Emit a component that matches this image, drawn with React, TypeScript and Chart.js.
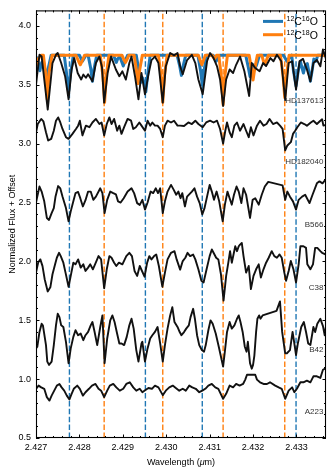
import React, { useEffect, useRef } from "react";
import { Chart, registerables } from "chart.js";

Chart.register(...registerables);

type Pt = [number, number];

const X_MIN = 2.427;
const X_MAX = 2.43368;
const Y_MIN = 0.5;
const Y_MAX = 4.132;

const xTickValues = [2.427, 2.428, 2.429, 2.43, 2.431, 2.432, 2.433];
const yTickValues = [0.5, 1.0, 1.5, 2.0, 2.5, 3.0, 3.5, 4.0];

const blueLines = [2.42777, 2.42952, 2.43083, 2.43299];
const orangeLines = [2.42857, 2.42992, 2.43131, 2.43273];

const starNames = ["HD137613", "HD182040", "B566", "C38", "B42", "A223"];
const starLabelY = [3.366, 2.845, 2.308, 1.779, 1.25, 0.721];
const starLabelX = 2.43362;

const legendIsotopes = ["16", "18"];
const BLUE = "#1f77b4";
const ORANGE = "#ff7f0e";

const model12C16O: Pt[] = [
  [2.427, 3.74], [2.42705, 3.69], [2.42709, 3.62], [2.42713, 3.69], [2.42717, 3.7],
  [2.42721, 3.62], [2.42724, 3.55], [2.42727, 3.62], [2.42735, 3.752], [2.42765, 3.752],
  [2.42771, 3.58], [2.42775, 3.44], [2.42779, 3.58], [2.42786, 3.752], [2.428, 3.752],
  [2.42804, 3.72], [2.42807, 3.7], [2.4281, 3.72], [2.42815, 3.752], [2.4282, 3.752],
  [2.42826, 3.64], [2.4283, 3.53], [2.42834, 3.64], [2.4284, 3.752], [2.42878, 3.752],
  [2.42882, 3.72], [2.42885, 3.69], [2.42888, 3.72], [2.42893, 3.74], [2.42897, 3.7],
  [2.42901, 3.66], [2.42905, 3.7], [2.42911, 3.752], [2.42931, 3.752], [2.42937, 3.62],
  [2.42941, 3.52], [2.42945, 3.56], [2.42949, 3.52], [2.42953, 3.44], [2.42957, 3.58],
  [2.42963, 3.752], [2.43025, 3.752], [2.43031, 3.66], [2.43035, 3.58], [2.43039, 3.66],
  [2.43045, 3.752], [2.43073, 3.752], [2.43079, 3.62], [2.43083, 3.5], [2.43087, 3.62],
  [2.43093, 3.752], [2.43108, 3.752], [2.43112, 3.72], [2.43115, 3.7], [2.43118, 3.72],
  [2.43123, 3.752], [2.43183, 3.752], [2.43189, 3.65], [2.43193, 3.57], [2.43197, 3.66],
  [2.43201, 3.67], [2.43205, 3.64], [2.43209, 3.68], [2.43215, 3.752], [2.4327, 3.752],
  [2.43275, 3.72], [2.43278, 3.7], [2.43282, 3.72], [2.43289, 3.752], [2.43293, 3.62],
  [2.43299, 3.49], [2.43304, 3.62], [2.43309, 3.7], [2.43313, 3.64], [2.43316, 3.6],
  [2.4332, 3.66], [2.43325, 3.68], [2.43329, 3.6], [2.43332, 3.53], [2.43336, 3.62],
  [2.4334, 3.72], [2.43345, 3.7], [2.43349, 3.752], [2.43368, 3.752],
];

const model12C18O: Pt[] = [
  [2.427, 3.66], [2.42705, 3.72], [2.42712, 3.752], [2.42717, 3.752], [2.42722, 3.6],
  [2.42726, 3.375], [2.4273, 3.6], [2.42737, 3.752], [2.42792, 3.752], [2.42798, 3.7],
  [2.42802, 3.67], [2.42806, 3.7], [2.42812, 3.752], [2.42848, 3.752], [2.42854, 3.58],
  [2.42858, 3.35], [2.42862, 3.58], [2.42868, 3.752], [2.42898, 3.752], [2.42903, 3.71],
  [2.42906, 3.69], [2.42909, 3.71], [2.42914, 3.752], [2.42926, 3.752], [2.42931, 3.63],
  [2.42935, 3.51], [2.42939, 3.63], [2.42945, 3.752], [2.42982, 3.752], [2.42988, 3.58],
  [2.42992, 3.35], [2.42996, 3.58], [2.43002, 3.752], [2.43074, 3.752], [2.43079, 3.7],
  [2.43082, 3.67], [2.43085, 3.7], [2.4309, 3.752], [2.43106, 3.752], [2.43109, 3.73],
  [2.43111, 3.72], [2.43113, 3.73], [2.43116, 3.752], [2.43121, 3.752], [2.43127, 3.57],
  [2.43131, 3.33], [2.43135, 3.57], [2.43141, 3.752], [2.43191, 3.752], [2.43196, 3.64],
  [2.432, 3.54], [2.43204, 3.64], [2.4321, 3.752], [2.4322, 3.752], [2.43224, 3.7],
  [2.43227, 3.68], [2.4323, 3.7], [2.43235, 3.752], [2.43263, 3.752], [2.43269, 3.58],
  [2.43273, 3.39], [2.43277, 3.58], [2.43283, 3.752], [2.43368, 3.752],
];

const hd137613: Pt[] = [
  [2.427, 3.5], [2.42708, 3.755], [2.42713, 3.74], [2.42727, 3.29], [2.42738, 3.685],
  [2.42746, 3.755], [2.4275, 3.77], [2.42758, 3.685], [2.42767, 3.573], [2.42775, 3.377],
  [2.42782, 3.63], [2.42788, 3.727], [2.42796, 3.6], [2.42804, 3.545], [2.42809, 3.587],
  [2.42815, 3.56], [2.4282, 3.59], [2.4283, 3.53], [2.42838, 3.685], [2.42846, 3.74],
  [2.42852, 3.65], [2.42857, 3.349], [2.42865, 3.6], [2.42873, 3.74], [2.42884, 3.63],
  [2.42892, 3.573], [2.42899, 3.615], [2.42907, 3.545], [2.42915, 3.685], [2.4292, 3.74],
  [2.42928, 3.573], [2.42936, 3.377], [2.42943, 3.6], [2.42951, 3.42], [2.42959, 3.587],
  [2.42966, 3.71], [2.42974, 3.74], [2.42982, 3.685], [2.42992, 3.349], [2.42999, 3.657],
  [2.43009, 3.77], [2.43018, 3.75], [2.43026, 3.77], [2.43032, 3.657], [2.43038, 3.59],
  [2.43048, 3.71], [2.43059, 3.755], [2.43067, 3.685], [2.43074, 3.545], [2.43084, 3.42],
  [2.43094, 3.7], [2.43101, 3.77], [2.43109, 3.727], [2.43117, 3.657], [2.43124, 3.545],
  [2.43131, 3.32], [2.43138, 3.545], [2.43146, 3.63], [2.43154, 3.6], [2.43161, 3.67],
  [2.4317, 3.74], [2.4318, 3.615], [2.43191, 3.405], [2.43197, 3.685], [2.43205, 3.643],
  [2.43215, 3.615], [2.43223, 3.685], [2.4323, 3.66], [2.4324, 3.727], [2.43247, 3.7],
  [2.43255, 3.755], [2.43265, 3.7], [2.43274, 3.37], [2.43282, 3.685], [2.4329, 3.7],
  [2.43299, 3.46], [2.43307, 3.7], [2.43315, 3.72], [2.43324, 3.63], [2.43332, 3.53],
  [2.43339, 3.685], [2.43347, 3.71], [2.43355, 3.657], [2.43361, 3.8], [2.43368, 3.72],
];

const hd182040: Pt[] = [
  [2.427, 3.095], [2.42704, 3.167], [2.42712, 3.21], [2.42717, 3.19], [2.42723, 3.097],
  [2.42728, 3.027], [2.42735, 3.041], [2.42741, 3.11], [2.42746, 3.195], [2.42751, 3.223],
  [2.42756, 3.18], [2.42761, 3.125], [2.42769, 3.055], [2.42775, 3.041], [2.42784, 3.083],
  [2.42792, 3.125], [2.42797, 3.153], [2.42801, 3.195], [2.42807, 3.07], [2.42815, 3.153],
  [2.42823, 3.14], [2.4283, 3.18], [2.42838, 3.21], [2.42846, 3.167], [2.42851, 3.18],
  [2.42857, 3.07], [2.42863, 3.167], [2.42869, 3.223], [2.42874, 3.167], [2.4288, 3.21],
  [2.42887, 3.11], [2.42892, 3.153], [2.42897, 3.083], [2.42903, 3.14], [2.42911, 3.21],
  [2.42919, 3.195], [2.42924, 3.125], [2.4293, 3.14], [2.42938, 3.18], [2.42943, 3.153],
  [2.42951, 3.11], [2.42957, 3.195], [2.42963, 3.153], [2.42968, 3.18], [2.42974, 3.153],
  [2.4298, 3.153], [2.42986, 3.125], [2.42992, 3.055], [2.42997, 3.153], [2.43003, 3.195],
  [2.43011, 3.18], [2.43018, 3.195], [2.43026, 3.153], [2.43032, 3.153], [2.43041, 3.15],
  [2.43051, 3.18], [2.43059, 3.167], [2.43067, 3.195], [2.43074, 3.167], [2.43084, 3.14],
  [2.43092, 3.18], [2.43101, 3.195], [2.43109, 3.18], [2.43117, 3.195], [2.43124, 3.125],
  [2.43131, 3.0], [2.43136, 3.11], [2.4314, 3.18], [2.43146, 3.097], [2.43151, 3.055],
  [2.43157, 3.153], [2.43163, 3.18], [2.4317, 3.11], [2.43178, 3.167], [2.43184, 3.11],
  [2.4319, 3.055], [2.43195, 3.14], [2.43201, 3.07], [2.43209, 3.153], [2.43216, 3.195],
  [2.43224, 3.153], [2.43231, 3.167], [2.43238, 3.21], [2.43246, 3.167], [2.43255, 3.18],
  [2.43262, 3.153], [2.43268, 3.125], [2.43274, 2.943], [2.43279, 2.985], [2.43287, 3.013],
  [2.43292, 3.083], [2.43297, 3.11], [2.43302, 3.14], [2.4331, 3.18], [2.43318, 3.167],
  [2.43324, 3.153], [2.43333, 3.18], [2.43339, 3.195], [2.43347, 3.167], [2.43355, 3.195],
  [2.43359, 3.207], [2.43362, 3.153], [2.43368, 3.16],
];

const b566: Pt[] = [
  [2.427, 2.5], [2.42708, 2.636], [2.42713, 2.593], [2.42719, 2.51], [2.42725, 2.369],
  [2.4273, 2.352], [2.42736, 2.41], [2.42741, 2.453], [2.42745, 2.552], [2.42751, 2.64],
  [2.42756, 2.62], [2.42761, 2.552], [2.42769, 2.453], [2.42775, 2.34], [2.4278, 2.425],
  [2.42786, 2.51], [2.42791, 2.58], [2.42797, 2.59], [2.42802, 2.537], [2.42808, 2.467],
  [2.42814, 2.52], [2.4282, 2.593], [2.42826, 2.593], [2.42832, 2.523], [2.42838, 2.55],
  [2.42848, 2.621], [2.42853, 2.58], [2.42858, 2.41], [2.42864, 2.523], [2.42871, 2.593],
  [2.42878, 2.58], [2.42884, 2.57], [2.42889, 2.51], [2.42895, 2.5], [2.42902, 2.537],
  [2.42911, 2.593], [2.4292, 2.621], [2.42926, 2.58], [2.42933, 2.495], [2.42939, 2.48],
  [2.42945, 2.523], [2.42951, 2.44], [2.42957, 2.5], [2.42964, 2.593], [2.4297, 2.58],
  [2.42976, 2.621], [2.42981, 2.58], [2.42986, 2.621], [2.42992, 2.41], [2.42997, 2.51],
  [2.43003, 2.593], [2.43011, 2.65], [2.43017, 2.61], [2.43023, 2.566], [2.43028, 2.593],
  [2.43033, 2.537], [2.43037, 2.58], [2.43043, 2.467], [2.43048, 2.55], [2.43059, 2.593],
  [2.43065, 2.621], [2.43071, 2.55], [2.43077, 2.495], [2.43083, 2.4], [2.43088, 2.45],
  [2.43094, 2.55], [2.431, 2.65], [2.43105, 2.593], [2.4311, 2.523], [2.43116, 2.593],
  [2.43122, 2.51], [2.4313, 2.34], [2.43135, 2.48], [2.43141, 2.593], [2.43146, 2.537],
  [2.43151, 2.482], [2.43156, 2.566], [2.43162, 2.636], [2.43167, 2.593], [2.43173, 2.495],
  [2.43178, 2.621], [2.43184, 2.566], [2.43193, 2.369], [2.43199, 2.523], [2.43205, 2.537],
  [2.43213, 2.482], [2.4322, 2.566], [2.43227, 2.636], [2.43235, 2.675], [2.43268, 2.646],
  [2.43274, 2.523], [2.43279, 2.593], [2.43285, 2.55], [2.43292, 2.51], [2.43299, 2.44],
  [2.43305, 2.523], [2.43313, 2.55], [2.4332, 2.566], [2.4333, 2.495], [2.43337, 2.566],
  [2.43347, 2.663], [2.43353, 2.68], [2.4336, 2.663], [2.43368, 2.7],
];

const c38: Pt[] = [
  [2.427, 1.905], [2.42705, 1.99], [2.4271, 2.017], [2.42715, 1.96], [2.4272, 1.849],
  [2.42727, 1.745], [2.42733, 1.78], [2.42738, 1.891], [2.42744, 1.975], [2.42748, 2.031],
  [2.42753, 2.073], [2.42757, 2.045], [2.42763, 1.989], [2.42768, 1.905], [2.42775, 1.785],
  [2.4278, 1.877], [2.42786, 1.989], [2.42791, 1.975], [2.42797, 2.017], [2.42803, 1.947],
  [2.42809, 1.975], [2.42814, 1.919], [2.4282, 1.947], [2.42825, 1.975], [2.42831, 1.933],
  [2.42836, 1.975], [2.42844, 2.045], [2.4285, 2.017], [2.42857, 1.772], [2.42863, 1.933],
  [2.42869, 2.045], [2.42874, 2.031], [2.4288, 1.989], [2.42885, 1.961], [2.42891, 1.989],
  [2.42899, 1.975], [2.42908, 2.045], [2.42915, 2.073], [2.42921, 2.045], [2.42927, 1.919],
  [2.42933, 1.877], [2.42939, 1.961], [2.4295, 1.87], [2.42956, 1.989], [2.42961, 2.045],
  [2.42966, 2.017], [2.42972, 2.045], [2.42977, 2.059], [2.42983, 1.961], [2.42991, 1.785],
  [2.42997, 1.905], [2.43003, 2.017], [2.43011, 2.073], [2.43019, 2.087], [2.43024, 2.017],
  [2.43032, 1.93], [2.43038, 2.003], [2.43044, 2.031], [2.43049, 2.073], [2.43055, 2.045],
  [2.43062, 2.058], [2.43067, 2.017], [2.43074, 1.933], [2.43081, 1.835], [2.43086, 1.821],
  [2.43092, 1.919], [2.431, 2.045], [2.43105, 2.101], [2.43109, 2.073], [2.43115, 2.031],
  [2.4312, 2.017], [2.43126, 1.891], [2.43132, 1.667], [2.43138, 1.877], [2.43143, 1.989],
  [2.43147, 2.087], [2.43151, 1.989], [2.43155, 2.059], [2.43159, 2.129], [2.43163, 2.087],
  [2.43167, 2.129], [2.4317, 2.143], [2.43174, 2.157], [2.43178, 2.045], [2.43184, 1.905],
  [2.4319, 1.961], [2.43195, 1.765], [2.43201, 1.877], [2.43207, 1.933], [2.43213, 1.975],
  [2.43218, 1.863], [2.43224, 1.933], [2.4323, 1.989], [2.43236, 2.031], [2.43243, 2.087],
  [2.43249, 2.045], [2.43255, 2.031], [2.43261, 2.059], [2.43266, 2.031], [2.43272, 1.905],
  [2.43276, 1.835], [2.43282, 1.919], [2.43287, 2.003], [2.43293, 1.933], [2.43299, 1.821],
  [2.43305, 1.975], [2.43309, 2.129], [2.43316, 2.129], [2.43322, 2.115], [2.43325, 1.975],
  [2.43332, 1.933], [2.43338, 1.975], [2.43343, 2.115], [2.43348, 2.115], [2.43355, 2.087],
  [2.43359, 2.073], [2.43368, 2.058],
];

const b42: Pt[] = [
  [2.427, 1.26], [2.42703, 1.275], [2.42708, 1.401], [2.42713, 1.471], [2.42716, 1.455],
  [2.42723, 1.289], [2.42726, 1.149], [2.4273, 1.121], [2.42736, 1.149], [2.42741, 1.289],
  [2.42746, 1.457], [2.4275, 1.555], [2.42754, 1.527], [2.42758, 1.457], [2.42763, 1.443],
  [2.42769, 1.317], [2.42775, 1.135], [2.4278, 1.261], [2.42786, 1.359], [2.42791, 1.415],
  [2.42797, 1.373], [2.42803, 1.387], [2.42809, 1.331], [2.42814, 1.373], [2.4282, 1.401],
  [2.42826, 1.457], [2.4283, 1.485], [2.42835, 1.401], [2.42841, 1.289], [2.42848, 1.443],
  [2.42853, 1.541], [2.42858, 1.135], [2.42864, 1.345], [2.42871, 1.499], [2.42876, 1.541],
  [2.42881, 1.485], [2.42886, 1.401], [2.42892, 1.303], [2.42897, 1.303], [2.42903, 1.289],
  [2.42909, 1.359], [2.42915, 1.457], [2.4292, 1.513], [2.42925, 1.429], [2.42931, 1.247],
  [2.42936, 1.149], [2.42943, 1.303], [2.42945, 1.317], [2.42951, 1.149], [2.42957, 1.261],
  [2.42963, 1.345], [2.42968, 1.373], [2.42974, 1.401], [2.4298, 1.443], [2.42986, 1.303],
  [2.42992, 1.149], [2.42997, 1.289], [2.43003, 1.429], [2.43009, 1.541], [2.43014, 1.611],
  [2.43019, 1.485], [2.43026, 1.443], [2.43031, 1.4], [2.43035, 1.373], [2.43041, 1.4],
  [2.43046, 1.429], [2.43052, 1.457], [2.43056, 1.527], [2.43062, 1.597], [2.43066, 1.513],
  [2.43071, 1.373], [2.43076, 1.289], [2.43082, 1.247], [2.43087, 1.233], [2.43091, 1.289],
  [2.43097, 1.415], [2.43102, 1.499], [2.43107, 1.471], [2.43114, 1.387], [2.43121, 1.275],
  [2.43131, 1.107], [2.43135, 1.233], [2.4314, 1.401], [2.43146, 1.485], [2.43151, 1.429],
  [2.43157, 1.457], [2.43163, 1.513], [2.43167, 1.541], [2.43171, 1.485], [2.43176, 1.401],
  [2.43181, 1.275], [2.43185, 1.233], [2.43188, 1.317], [2.43193, 1.135], [2.43197, 1.089],
  [2.432, 1.121], [2.43203, 1.2], [2.43207, 1.401], [2.4321, 1.513], [2.43214, 1.541],
  [2.43217, 1.513], [2.43222, 1.541], [2.43254, 1.58], [2.43262, 1.66], [2.43267, 1.401],
  [2.43274, 1.219], [2.43278, 1.22], [2.43285, 1.247], [2.43291, 1.401], [2.43294, 1.33],
  [2.43299, 1.205], [2.43303, 1.3], [2.43311, 1.443], [2.43317, 1.485], [2.43322, 1.4],
  [2.43327, 1.303], [2.43332, 1.29], [2.43339, 1.443], [2.43343, 1.4], [2.43348, 1.471],
  [2.43355, 1.513], [2.43361, 1.45], [2.43365, 1.373], [2.43368, 1.45],
];

const a223: Pt[] = [
  [2.427, 0.918], [2.42706, 0.945], [2.42712, 0.93], [2.42719, 0.918], [2.42725, 0.847],
  [2.42731, 0.818], [2.42736, 0.86], [2.42742, 0.902], [2.42748, 0.945], [2.42754, 0.959],
  [2.42759, 0.93], [2.42765, 0.902], [2.42771, 0.86], [2.42777, 0.827], [2.42782, 0.875],
  [2.42787, 0.918], [2.42795, 0.945], [2.42801, 0.918], [2.42808, 0.86], [2.42814, 0.889],
  [2.42822, 0.918], [2.42829, 0.945], [2.42837, 0.959], [2.42844, 0.918], [2.4285, 0.902],
  [2.42857, 0.847], [2.42864, 0.902], [2.4287, 0.945], [2.42878, 0.959], [2.42885, 0.93],
  [2.42893, 0.902], [2.42901, 0.918], [2.42908, 0.959], [2.42916, 0.973], [2.42924, 0.93],
  [2.42931, 0.902], [2.42939, 0.918], [2.42945, 0.889], [2.42953, 0.91], [2.42959, 0.925],
  [2.42967, 0.918], [2.42974, 0.945], [2.42982, 0.93], [2.42992, 0.864], [2.42999, 0.902],
  [2.43007, 0.93], [2.43015, 0.945], [2.43022, 0.925], [2.4303, 0.902], [2.43038, 0.918],
  [2.43045, 0.902], [2.43053, 0.945], [2.4306, 0.93], [2.43068, 0.918], [2.43076, 0.889],
  [2.43083, 0.902], [2.4309, 0.918], [2.43097, 0.945], [2.43105, 0.959], [2.43113, 0.93],
  [2.4312, 0.918], [2.43131, 0.833], [2.43138, 0.875], [2.43146, 0.945], [2.43154, 0.93],
  [2.43161, 0.959], [2.43169, 0.945], [2.43177, 0.959], [2.43182, 0.996], [2.43186, 1.037],
  [2.43205, 1.037], [2.43209, 0.996], [2.43216, 0.973], [2.43224, 0.959], [2.43232, 0.959],
  [2.43239, 0.973], [2.43251, 0.945], [2.43259, 0.93], [2.43266, 0.918], [2.43274, 0.833],
  [2.43282, 0.902], [2.4329, 0.93], [2.43295, 0.889], [2.43301, 0.918], [2.43309, 0.973],
  [2.43316, 0.973], [2.43324, 0.987], [2.43332, 0.973], [2.43339, 1.024], [2.43347, 1.024],
  [2.43355, 1.01], [2.43361, 1.08], [2.43368, 1.094],
];

const spectra: Pt[][] = [hd137613, hd182040, b566, c38, b42, a223];

const FONT = "'Liberation Sans', Arial, Helvetica, sans-serif";

const toXY = (pts: Pt[]) => pts.map(([x, y]) => ({ x, y }));

const decorPlugin = {
  id: "decor",
  afterDraw(chart: any) {
    const { ctx, chartArea: a, scales } = chart;
    const xs = scales.x;
    const ys = scales.y;
    ctx.save();
    ctx.strokeStyle = "#000";
    ctx.lineWidth = 1;
    const seg = (x1: number, y1: number, x2: number, y2: number) => {
      ctx.beginPath();
      ctx.moveTo(x1, y1);
      ctx.lineTo(x2, y2);
      ctx.stroke();
    };
    // inward ticks, x
    const xMinorStep = (xTickValues[1] - xTickValues[0]) / 5;
    for (let k = 0; ; k++) {
      const v = xTickValues[0] + k * xMinorStep;
      if (v > X_MAX + 1e-9) break;
      const p = Math.round(xs.getPixelForValue(v)) + 0.5;
      const len = k % 5 === 0 ? 3.5 : 2;
      seg(p, a.bottom, p, a.bottom - len);
      seg(p, a.top, p, a.top + len);
    }
    // inward ticks, y
    const yMinorStep = (yTickValues[1] - yTickValues[0]) / 5;
    for (let k = 0; ; k++) {
      const v = yTickValues[0] + k * yMinorStep;
      if (v > Y_MAX + 1e-9) break;
      const p = Math.round(ys.getPixelForValue(v)) + 0.5;
      const len = k % 5 === 0 ? 3.5 : 2;
      seg(a.left, p, a.left + len, p);
      seg(a.right, p, a.right - len, p);
    }
    // frame
    ctx.lineWidth = 1.1;
    ctx.strokeRect(a.left + 0.5, a.top + 0.5, a.right - a.left - 1, a.bottom - a.top - 1);

    // star labels
    ctx.fillStyle = "#333";
    ctx.font = `8px ${FONT}`;
    ctx.textAlign = "right";
    ctx.textBaseline = "middle";
    starNames.forEach((name, i) => {
      ctx.fillText(name, xs.getPixelForValue(starLabelX), ys.getPixelForValue(starLabelY[i]));
    });

    // legend
    const legendColors = [BLUE, ORANGE];
    legendIsotopes.forEach((iso, i) => {
      const ly = a.top + 11 + i * 13.3;
      ctx.strokeStyle = legendColors[i];
      ctx.lineWidth = 3;
      seg(a.right - 63, ly, a.right - 43, ly);
      ctx.fillStyle = "#000";
      ctx.textAlign = "left";
      ctx.textBaseline = "alphabetic";
      let tx = a.right - 39.5;
      const base = ly + 3.8;
      const parts: [string, boolean][] = [["12", true], ["C", false], [iso, true], ["O", false]];
      parts.forEach(([t, sup]) => {
        ctx.font = sup ? `7px ${FONT}` : `10.5px ${FONT}`;
        ctx.fillText(t, tx, sup ? base - 4 : base);
        tx += ctx.measureText(t).width;
      });
    });

    // axis titles
    ctx.fillStyle = "#000";
    ctx.font = `9px ${FONT}`;
    ctx.textBaseline = "alphabetic";
    ctx.save();
    ctx.translate(14.5, (a.top + a.bottom) / 2);
    ctx.rotate(-Math.PI / 2);
    ctx.textAlign = "center";
    ctx.fillText("Normalized Flux + Offset", 0, 0);
    ctx.restore();

    const t1 = "Wavelength (";
    const t2 = "μ";
    const t3 = "m)";
    ctx.font = `9px ${FONT}`;
    const w1 = ctx.measureText(t1).width;
    const w3 = ctx.measureText(t3).width;
    ctx.font = `italic 9px ${FONT}`;
    const w2 = ctx.measureText(t2).width;
    const total = w1 + w2 + w3;
    let sx = (a.left + a.right) / 2 - total / 2;
    const by = 465;
    ctx.textAlign = "left";
    ctx.font = `9px ${FONT}`;
    ctx.fillText(t1, sx, by);
    sx += w1;
    ctx.font = `italic 9px ${FONT}`;
    ctx.fillText(t2, sx, by);
    sx += w2;
    ctx.font = `9px ${FONT}`;
    ctx.fillText(t3, sx, by);
    ctx.restore();
  },
};

export default function App() {
  const canvasRef = useRef<HTMLCanvasElement | null>(null);

  useEffect(() => {
    document.body.style.margin = "0";
    const canvas = canvasRef.current;
    if (!canvas) return;

    const vlineSets = [
      ...blueLines.map((w) => ({ w, c: BLUE })),
      ...orangeLines.map((w) => ({ w, c: ORANGE })),
    ].map(({ w, c }) => ({
      data: [
        { x: w, y: Y_MIN },
        { x: w, y: Y_MAX },
      ],
      borderColor: c,
      borderWidth: 1.4,
      borderDash: [5.5, 2.4],
      pointRadius: 0,
      order: 5,
    }));

    const datasets: any[] = [
      ...spectra.map((s) => ({
        data: toXY(s),
        borderColor: "#111",
        borderWidth: 1.9,
        pointRadius: 0,
        tension: 0,
        order: 0,
      })),
      {
        data: toXY(model12C18O),
        borderColor: ORANGE,
        borderWidth: 3,
        pointRadius: 0,
        order: 1,
      },
      {
        data: toXY(model12C16O),
        borderColor: BLUE,
        borderWidth: 3,
        pointRadius: 0,
        order: 2,
      },
      ...vlineSets,
    ];

    Chart.defaults.font.family = FONT;
    Chart.defaults.color = "#000";

    const chart = new Chart(canvas, {
      type: "line",
      data: { datasets },
      options: {
        animation: false,
        responsive: false,
        devicePixelRatio: 1,
        layout: { padding: { left: 0, top: 5, right: 6, bottom: 0 } },
        plugins: { legend: { display: false }, tooltip: { enabled: false } },
        elements: { line: { borderJoinStyle: "round", borderCapStyle: "butt" } },
        scales: {
          x: {
            type: "linear",
            min: X_MIN,
            max: X_MAX,
            grid: { display: false, drawTicks: false },
            border: { display: false },
            ticks: {
              font: { size: 9, family: FONT },
              color: "#000",
              padding: 4,
              maxRotation: 0,
              autoSkip: false,
              callback: (v: any) => Number(v).toFixed(3),
            },
            afterBuildTicks: (scale: any) => {
              scale.ticks = xTickValues.map((value) => ({ value }));
            },
            afterFit: (scale: any) => {
              scale.height = 33;
            },
          },
          y: {
            type: "linear",
            min: Y_MIN,
            max: Y_MAX,
            grid: { display: false, drawTicks: false },
            border: { display: false },
            ticks: {
              font: { size: 9, family: FONT },
              color: "#000",
              padding: 5,
              callback: (v: any) => Number(v).toFixed(1),
            },
            afterBuildTicks: (scale: any) => {
              scale.ticks = yTickValues.map((value) => ({ value }));
            },
            afterFit: (scale: any) => {
              scale.width = 36;
            },
          },
        },
      },
      plugins: [decorPlugin],
    });

    return () => chart.destroy();
  }, []);

  return <canvas ref={canvasRef} width={332} height={471} style={{ display: "block" }} />;
}
